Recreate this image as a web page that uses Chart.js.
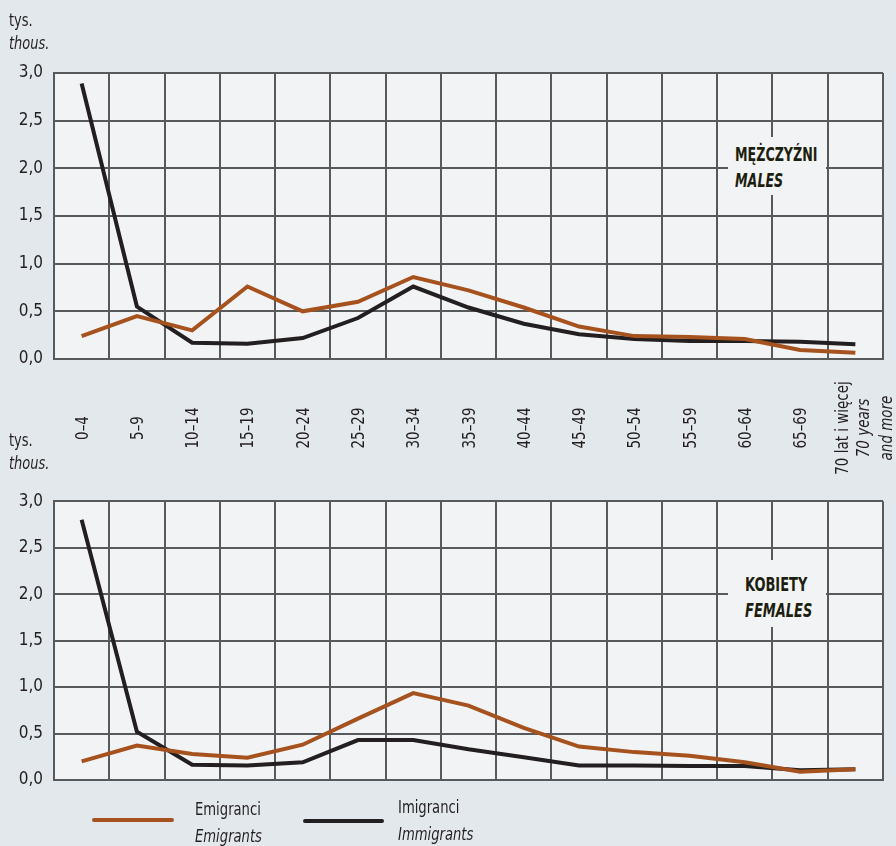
<!DOCTYPE html>
<html><head><meta charset="utf-8">
<script src="https://cdn.jsdelivr.net/npm/chart.js@4"></script>
<style>
html,body{margin:0;padding:0;background:#e3e8ec;}
#wrap{position:relative;width:896px;height:846px;overflow:hidden;font-family:'Liberation Sans Narrow','DejaVu Sans Condensed',sans-serif;color:#231f20;}
canvas{position:absolute;left:0;}
.unit{position:absolute;left:9px;font-size:17px;line-height:23px;}
.title{position:absolute;left:728px;width:98px;background:#f2f3f5;font-weight:bold;font-size:19px;line-height:26px;color:#1d1f0e;box-sizing:border-box;}
.leg-line{position:absolute;height:4px;border-radius:2px;}
.leg-text{position:absolute;font-size:17px;line-height:27px;white-space:nowrap;}
.sq{display:inline-block;transform-origin:0 0;white-space:nowrap;}
</style></head>
<body><div id="wrap">
<canvas id="c1" width="896" height="480" style="top:0;width:896px;height:480px"></canvas>
<canvas id="c2" width="896" height="366" style="top:480px;width:896px;height:366px"></canvas>
<div class="unit" style="top:9px"><span class="sq" style="transform:scaleX(0.85)">tys.<br><i>thous.</i></span></div>
<div class="unit" style="top:429px"><span class="sq" style="transform:scaleX(0.85)">tys.<br><i>thous.</i></span></div>
<div class="title" style="top:137px;height:58px;padding:4px 0 0 7px"><span class="sq" style="transform:scaleX(0.74)">MĘŻCZYŹNI<br><i>MALES</i></span></div>
<div class="title" style="top:560px;height:67px;padding:11px 0 0 17px"><span class="sq" style="transform:scaleX(0.76)">KOBIETY<br><i>FEMALES</i></span></div>
<div class="leg-line" style="left:92px;top:818px;width:82px;background:#a6521f"></div>
<div class="leg-text" style="left:195px;top:796px"><span class="sq" style="transform:scaleX(0.86)">Emigranci<br><i>Emigrants</i></span></div>
<div class="leg-line" style="left:303px;top:819px;width:81px;background:#231f20"></div>
<div class="leg-text" style="left:398px;top:794px"><span class="sq" style="transform:scaleX(0.86)">Imigranci<br><i>Immigrants</i></span></div>
</div>
<script>
const ageGroups = ['0–4','5–9','10–14','15–19','20–24','25–29','30–34','35–39','40–44','45–49','50–54','55–59','60–64','65–69',['70 lat i więcej','70 years','and more']];
const seriesNames = ['Emigranci','Imigranci'];
const yTickValues = [0, 0.5, 1, 1.5, 2, 2.5, 3];
const malesEmigrants   = [0.24,0.45,0.30,0.76,0.50,0.60,0.86,0.72,0.54,0.34,0.24,0.23,0.21,0.095,0.065];
const malesImmigrants  = [2.89,0.55,0.17,0.16,0.22,0.43,0.76,0.54,0.37,0.26,0.21,0.19,0.19,0.18,0.155];
const femalesEmigrants = [0.20,0.37,0.28,0.24,0.38,0.66,0.935,0.80,0.56,0.36,0.30,0.26,0.19,0.09,0.115];
const femalesImmigrants= [2.80,0.52,0.165,0.155,0.19,0.43,0.43,0.33,0.245,0.155,0.155,0.15,0.15,0.105,0.115];

const FONT = "'Liberation Sans Narrow','DejaVu Sans Condensed',sans-serif";
Chart.defaults.font.family = FONT;
Chart.defaults.font.size = 17;
Chart.defaults.color = '#231f20';

const bgPlugin = {
  id:'plotbg',
  beforeDraw(chart){
    const {ctx, chartArea:a} = chart;
    ctx.save(); ctx.fillStyle='#f2f3f5';
    ctx.fillRect(a.left,a.top,a.right-a.left,a.bottom-a.top);
    ctx.restore();
  }
};
const xLabelPlugin = {
  id:'xlabels',
  afterDraw(chart, args, o){
    if(!o.show) return;
    const ctx = chart.ctx, xs = chart.scales.x;
    ctx.save();
    ctx.fillStyle = '#231f20';
    ctx.textAlign = 'center';
    ctx.textBaseline = 'alphabetic';
    ageGroups.forEach((lab,i)=>{
      const x = xs.getPixelForTick(i);
      const lines = Array.isArray(lab) ? lab : [lab];
      const offs = lines.length>1 ? [-7,14,37] : [6];
      lines.forEach((t,j)=>{
        ctx.save();
        ctx.font = (j>0 ? 'italic ' : '') + '17px ' + FONT;
        ctx.translate(x + offs[j], o.cy);
        ctx.rotate(-Math.PI/2);
        ctx.scale(0.88,1);
        ctx.fillText(t,0,0);
        ctx.restore();
      });
    });
    ctx.restore();
  }
};

function makeChart(id, emi, imm, topPad, xHeight, showLabels){
  return new Chart(document.getElementById(id), {
    type:'line',
    data:{
      labels: ageGroups,
      datasets:[
        {label:seriesNames[0], data:emi, borderColor:'#a6521f', borderWidth:4, pointRadius:0, tension:0, fill:false},
        {label:seriesNames[1], data:imm, borderColor:'#231f20', borderWidth:4, pointRadius:0, tension:0, fill:false}
      ]
    },
    options:{
      responsive:false, animation:false,
      layout:{padding:{left:0,right:13,top:topPad,bottom:0}},
      plugins:{legend:{display:false}, tooltip:{enabled:false}, xlabels:{show:showLabels, cy:428}},
      scales:{
        x:{
          type:'category', offset:true,
          grid:{offset:true, color:'#58595b', lineWidth:2, drawTicks:false},
          border:{color:'#58595b', width:2},
          ticks:{display:false},
          afterFit(s){ s.height = xHeight; }
        },
        y:{
          min:0, max:3,
          afterBuildTicks(s){ s.ticks = yTickValues.map(v=>({value:v})); },
          grid:{color:'#58595b', lineWidth:2, drawTicks:false},
          border:{color:'#58595b', width:2},
          ticks:{padding:11, color:'#231f20', font:{size:17}, callback:v=>Number(v).toFixed(1).replace('.',',')},
          afterFit(s){ s.width = 54; }
        }
      }
    },
    plugins:[bgPlugin, xLabelPlugin]
  });
}
makeChart('c1', malesEmigrants, malesImmigrants, 73, 121, true);
makeChart('c2', femalesEmigrants, femalesImmigrants, 14, 66, false);
</script>
</body></html>
